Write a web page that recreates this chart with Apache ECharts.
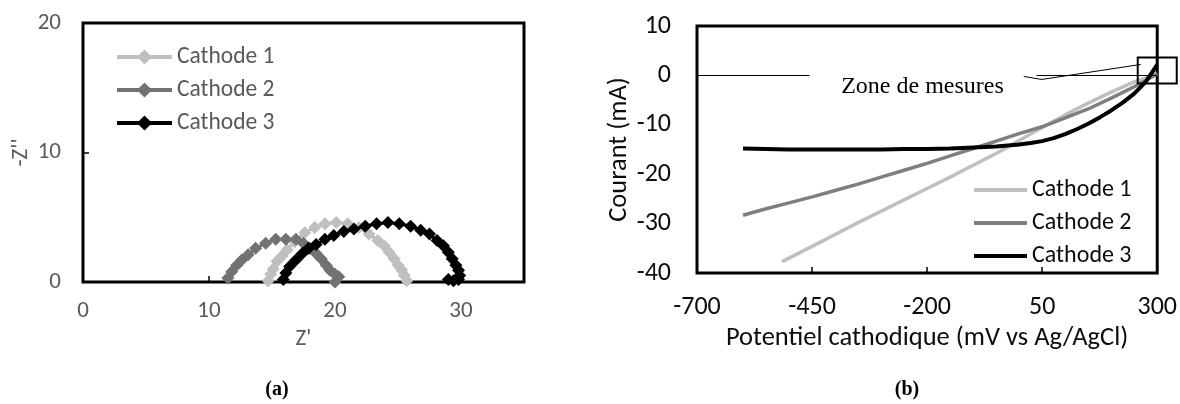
<!DOCTYPE html>
<html><head><meta charset="utf-8">
<script src="https://cdn.jsdelivr.net/npm/echarts@6/dist/echarts.min.js"></script>
<style>html,body{margin:0;padding:0;background:#fff}#c{width:1180px;height:404px}</style>
</head><body><div id="c"></div>
<script>
// ---------- (a) Nyquist plot ----------
const seriesNames = ['Cathode 1', 'Cathode 2', 'Cathode 3'];
const nyqRe1 = [14.7,14.9,15.1,15.4,15.8,16.2,16.8,17.6,18.4,19.2,20.1,21.0,21.9,22.7,23.4,23.9,24.3,24.7,25.0,25.3,25.5,25.7];
const nyqIm1 = [0.1,0.6,1.0,1.6,2.0,2.5,3.1,3.8,4.2,4.5,4.6,4.5,4.2,3.7,3.2,2.8,2.3,1.8,1.3,0.9,0.5,0.1];
const nyqRe2 = [11.5,11.8,12.2,12.6,13.1,13.7,14.5,15.3,16.1,16.9,17.5,18.0,18.5,18.9,19.3,19.6,20.0,20.3,20.0];
const nyqIm2 = [0.3,0.8,1.3,1.7,2.1,2.6,3.0,3.3,3.3,3.3,3.0,2.6,2.2,1.8,1.3,0.9,0.6,0.4,0.0];
const nyqRe3 = [15.9,16.1,16.4,16.9,17.4,17.9,18.5,19.2,19.9,20.7,21.5,22.4,23.3,24.2,25.1,26.0,26.8,27.5,28.1,28.6,29.0,29.3,29.6,29.8,29.9,29.8,29.4,29.0];
const nyqIm3 = [0.2,0.7,1.2,1.7,2.2,2.6,2.9,3.3,3.6,3.9,4.1,4.3,4.5,4.6,4.5,4.3,4.0,3.7,3.2,2.8,2.3,1.8,1.3,0.9,0.5,0.2,0.1,0.2];
const xTicksA = [0, 10, 20, 30];
const yTicksA = [0, 10, 20];

// ---------- (b) polarisation curves ----------
const polmV1 = [-515,-450,-400,-350,-300,-250,-200,-150,-100,-50,0,50,100,150,200,250,300];
const polmA1 = [-37.7,-34.6,-32.2,-29.8,-27.5,-25.2,-22.9,-20.6,-18.2,-15.8,-13.2,-10.5,-8.0,-5.6,-3.4,-1.3,0.3];
const polmV2 = [-600,-550,-500,-450,-400,-350,-300,-250,-200,-150,-100,-50,0,50,100,150,200,250,300];
const polmA2 = [-28.3,-27.0,-25.8,-24.6,-23.3,-22.0,-20.6,-19.2,-17.8,-16.3,-14.8,-13.3,-11.8,-10.4,-8.6,-6.8,-4.6,-2.3,0.3];
const polmV3 = [-600,-550,-500,-450,-400,-350,-300,-250,-200,-150,-100,-50,0,25,50,75,100,125,150,175,200,225,250,275,300];
const polmA3 = [-14.8,-14.9,-15.0,-15.0,-15.0,-15.0,-15.0,-14.9,-14.9,-14.8,-14.6,-14.4,-14.0,-13.7,-13.3,-12.7,-11.9,-10.9,-9.8,-8.5,-7.1,-5.5,-3.7,-1.3,2.2];
const xTicksB = [-700, -450, -200, 50, 300];
const yTicksB = [-40, -30, -20, -10, 0, 10];
const zoneLabel = 'Zone de mesures';
const zoneCenter = [300, 1];

const FONT = 'Carlito, Calibri, Lato, sans-serif';
const zip = (a, b) => a.map((v, i) => [v, b[i]]);
const colA = ['#bfbfbf', '#767171', '#000000'];
const colB = ['#bfbfbf', '#7f7f7f', '#000000'];

const chart = echarts.init(document.getElementById('c'), null, {renderer: 'canvas'});

const nyq = [[nyqRe1, nyqIm1], [nyqRe2, nyqIm2], [nyqRe3, nyqIm3]];
const pol = [[polmV1, polmA1], [polmV2, polmA2], [polmV3, polmA3]];

const series = [];
nyq.forEach((d, i) => series.push({
  name: seriesNames[i], type: 'line', xAxisIndex: 0, yAxisIndex: 0,
  data: zip(d[0], d[1]), symbol: 'diamond', symbolSize: 13, showSymbol: true,
  lineStyle: {color: colA[i], width: 3}, itemStyle: {color: colA[i]},
  z: 3 + i, animation: false, clip: false
}));
pol.forEach((d, i) => series.push({
  name: seriesNames[i] + ' (b)', type: 'line', xAxisIndex: 1, yAxisIndex: 1,
  data: zip(d[0], d[1]), symbol: 'none',
  lineStyle: {color: colB[i], width: i === 2 ? 4 : 3.5}, itemStyle: {color: colB[i]},
  z: 3 + i, animation: false, clip: false,
  markLine: i === 0 ? {silent: true, symbol: ['none', 'none'], label: {show: false},
    lineStyle: {color: '#000', width: 1, type: 'solid'}, data: [{yAxis: 0}], animation: false} : undefined
}));

const option = {
  animation: false,
  grid: [
    {left: 83, top: 23, width: 441, height: 259, show: true, borderColor: '#000', borderWidth: 3, backgroundColor: 'transparent'},
    {left: 697, top: 26, width: 463, height: 247, show: true, borderColor: '#000', borderWidth: 3, backgroundColor: 'transparent'}
  ],
  xAxis: [
    {type: 'value', gridIndex: 0, min: 0, max: 35,
      axisLine: {show: false, onZero: false}, splitLine: {show: false},
      axisTick: {show: true, inside: true, length: 6, lineStyle: {color: '#000', width: 1.5}, customValues: xTicksA.slice(1)},
      axisLabel: {customValues: xTicksA, color: '#595959', fontSize: 23, margin: 18, fontFamily: FONT},
      name: "Z'", nameLocation: 'middle', nameGap: 39, nameTextStyle: {color: '#595959', fontSize: 23, fontFamily: FONT}},
    {type: 'value', gridIndex: 1, min: -700, max: 300,
      axisLine: {show: false, onZero: false}, splitLine: {show: false},
      axisTick: {show: true, inside: true, length: 6, lineStyle: {color: '#000', width: 1.5}, customValues: xTicksB.slice(1, -1)},
      axisLabel: {customValues: xTicksB, color: '#0d0d0d', fontSize: 26, margin: 21, fontFamily: FONT},
      name: 'Potentiel cathodique (mV vs Ag/AgCl)', nameLocation: 'middle', nameGap: 50,
      nameTextStyle: {color: '#0d0d0d', fontSize: 26.5, fontFamily: FONT}}
  ],
  yAxis: [
    {type: 'value', gridIndex: 0, min: 0, max: 20,
      axisLine: {show: false, onZero: false}, splitLine: {show: false},
      axisTick: {show: true, inside: true, length: 6, lineStyle: {color: '#000', width: 1.5}, customValues: [10]},
      axisLabel: {customValues: yTicksA, color: '#595959', fontSize: 23, margin: 22, fontFamily: FONT},
      name: "-Z''", nameLocation: 'middle', nameGap: 50, nameTextStyle: {color: '#595959', fontSize: 23, fontFamily: FONT}},
    {type: 'value', gridIndex: 1, min: -40, max: 10,
      axisLine: {show: false, onZero: false}, splitLine: {show: false}, axisTick: {show: false},
      axisLabel: {customValues: yTicksB, color: '#0d0d0d', fontSize: 26, margin: 26, fontFamily: FONT},
      name: 'Courant (mA)', nameLocation: 'middle', nameGap: 54,
      nameTextStyle: {color: '#0d0d0d', fontSize: 26.5, fontFamily: FONT}}
  ],
  legend: [
    {orient: 'vertical', left: 110, top: 40, itemWidth: 55, itemHeight: 19, itemGap: 9,
      selectedMode: false, data: seriesNames,
      lineStyle: {width: 4},
      textStyle: {color: '#595959', fontSize: 23.5, fontFamily: FONT, lineHeight: 24}},
    {orient: 'vertical', left: 969, top: 173, itemWidth: 53, itemHeight: 4, itemGap: 9,
      selectedMode: false, data: seriesNames.map(n => ({name: n + ' (b)', icon: 'rect'})),
      formatter: n => n.replace(' (b)', ''),
      textStyle: {color: '#0d0d0d', fontSize: 24, fontFamily: FONT, lineHeight: 24}}
  ],
  series: series
};
chart.setOption(option);

// annotation positioned from data coordinates
const c = chart.convertToPixel({gridIndex: 1}, zoneCenter);
const t = chart.convertToPixel({gridIndex: 1}, [-210, 0]);
chart.setOption({
  graphic: [
    {type: 'rect', shape: {x: t[0] - 113, y: t[1] - 12, width: 227, height: 40}, style: {fill: '#fff'}, z: 50},
    {type: 'text', x: t[0], y: t[1] + 11, style: {text: zoneLabel, font: '24px "Liberation Serif", "Times New Roman", serif', fill: '#000', align: 'center', verticalAlign: 'middle'}, z: 51},
    {type: 'polyline', shape: {points: [[c[0] - 133.5, c[1] + 6], [c[0] - 115.5, c[1] + 9], [c[0] - 16.5, c[1] - 6]]}, style: {stroke: '#000', lineWidth: 1, fill: null}, z: 52},
    {type: 'rect', shape: {x: c[0] - 19.5, y: c[1] - 13, width: 39, height: 26}, style: {stroke: '#000', lineWidth: 2, fill: 'transparent'}, z: 52},
    {type: 'text', x: 277, y: 390, style: {text: '(a)', font: 'bold 20px "Liberation Serif", "Times New Roman", serif', fill: '#000', align: 'center', verticalAlign: 'middle'}, z: 52},
    {type: 'text', x: 907, y: 390, style: {text: '(b)', font: 'bold 20px "Liberation Serif", "Times New Roman", serif', fill: '#000', align: 'center', verticalAlign: 'middle'}, z: 52}
  ]
});
</script>
</body></html>
